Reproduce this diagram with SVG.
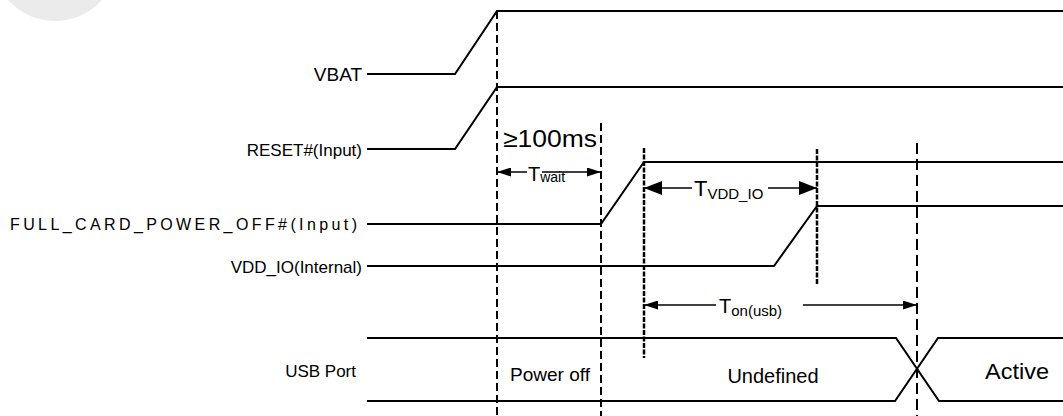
<svg xmlns="http://www.w3.org/2000/svg" width="1063" height="416" viewBox="0 0 1063 416">
<defs>
<style>
.bg{fill:#ffffff}
.wm{fill:#ebebeb}
.w{fill:none;stroke:#000;stroke-width:2;stroke-linejoin:miter}
.d1{fill:none;stroke:#000;stroke-width:2;stroke-dasharray:8 4}
.d2{fill:none;stroke:#000;stroke-width:2.5;stroke-dasharray:5 1.5}
.d3{fill:none;stroke:#000;stroke-width:2;stroke-dasharray:11 5}
.a{fill:none;stroke:#000;stroke-width:1.5}
.t{font-family:"Liberation Sans",Arial,sans-serif;fill:#000}
</style>
<marker id="ah" viewBox="0 0 14 9" refX="14" refY="4.5" markerWidth="14" markerHeight="9" markerUnits="userSpaceOnUse" orient="auto-start-reverse">
<path d="M0,0 L14,4.5 L0,9 Z" fill="#000"/>
</marker>
<marker id="ahb" viewBox="0 0 18 14" refX="18" refY="7" markerWidth="18" markerHeight="14" markerUnits="userSpaceOnUse" orient="auto-start-reverse">
<path d="M0,0 L18,7 L0,14 Z" fill="#000"/>
</marker>
</defs>
<rect class="bg" x="0" y="0" width="1063" height="416"/>
<circle class="wm" cx="55" cy="-42" r="63"/>

<g id="vbat">
<text class="t" x="362" y="81" text-anchor="end" font-size="19">VBAT</text>
</g>
<g id="reset">
<text class="t" x="362" y="156" text-anchor="end" font-size="17">RESET#(Input)</text>
</g>
<g id="fullcard">
<text class="t" x="10" y="230" font-size="16" textLength="347" lengthAdjust="spacing">FULL_CARD_POWER_OFF#(Input)</text>
</g>
<g id="vddio">
<text class="t" x="362" y="273" text-anchor="end" font-size="17">VDD_IO(Internal)</text>
</g>
<g id="usb">
<text class="t" x="356" y="377" text-anchor="end" font-size="17">USB Port</text>
<text class="t" x="510" y="381" font-size="18" textLength="80" lengthAdjust="spacingAndGlyphs">Power off</text>
<text class="t" x="773" y="383" text-anchor="middle" font-size="20">Undefined</text>
<text class="t" x="985" y="379" font-size="22" textLength="64" lengthAdjust="spacingAndGlyphs">Active</text>
</g>

<g id="connectors">
<polyline class="w" points="367,74 455,74 497,11 1063,11"/>
<polyline class="w" points="367,149 455,149 497,87 1063,87"/>
<polyline class="w" points="367,224 601,224 644,162 1063,162"/>
<polyline class="w" points="367,266 774,266 817,206 1063,206"/>
<polyline class="w" points="367,338 896,338 939,401 1063,401"/>
<polyline class="w" points="367,401 895,401 938,338 1063,338"/>
<line class="d1" x1="497" y1="11" x2="497" y2="416"/>
<line class="d1" x1="601" y1="123" x2="601" y2="416"/>
<line class="d2" x1="644" y1="148" x2="644" y2="358"/>
<line class="d2" x1="817" y1="149" x2="817" y2="285"/>
<line class="d3" x1="917" y1="143" x2="917" y2="416"/>
<line class="a" x1="527" y1="172" x2="497" y2="172" marker-end="url(#ah)"/>
<line class="a" x1="542" y1="172" x2="601" y2="172" marker-end="url(#ah)"/>
<line class="a" x1="692" y1="188" x2="644" y2="188" marker-end="url(#ahb)"/>
<line class="a" x1="768" y1="188" x2="817" y2="188" marker-end="url(#ahb)"/>
<line class="a" x1="716" y1="305" x2="644" y2="305" marker-end="url(#ah)"/>
<line class="a" x1="803" y1="305" x2="917" y2="305" marker-end="url(#ah)"/>
</g>

<g id="labels">
<text class="t" x="503" y="147" font-size="24" textLength="94" lengthAdjust="spacingAndGlyphs">≥100ms</text>
<text class="t" x="528" y="181" font-size="20">T<tspan font-size="14" dy="1">wait</tspan></text>
<text class="t" x="694" y="196" font-size="22">T<tspan font-size="15" dy="3">VDD_IO</tspan></text>
<text class="t" x="719" y="313" font-size="20">T<tspan font-size="15" dy="3">on(usb)</tspan></text>
</g>
</svg>
